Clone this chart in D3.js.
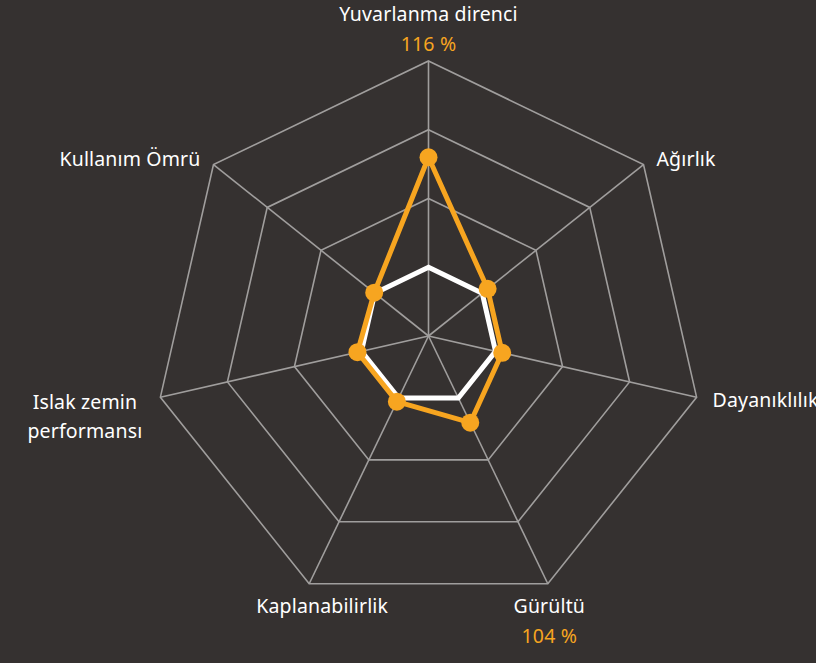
<!DOCTYPE html>
<html>
<head>
<meta charset="utf-8">
<script src="https://cdn.jsdelivr.net/npm/d3@7"></script>
<style>
  html, body { margin: 0; padding: 0; background: #353130; }
  svg text { font-family: "Noto Sans", "Open Sans", sans-serif; font-size: 19.5px; letter-spacing: 0.15px; }
</style>
</head>
<body>
<div id="wrapper"></div>
<script>
const width = 816,
    height = 663;

// axis labels, clockwise from the top
const axes = ["Yuvarlanma direnci", "Ağırlık", "Dayanıklılık", "Gürültü",
    "Kaplanabilirlik", "Islak zemin\nperformansı", "Kullanım Ömrü"];
// baseline (white) and product (orange), in %
const baseline = [100, 100, 100, 100, 100, 100, 100];
const product = [116, 101, 101, 104, 100.6, 100.6, 100.1];
// which axes show their % value
const showValue = [true, false, false, true, false, false, false];
const levels = [100, 110, 120, 130];

const cx = 428.5, cy = 336, R = 275;
const n = axes.length;

const svg = d3.select("#wrapper")
    .append("svg")
    .attr("width", width)
    .attr("height", height);

const rScale = d3.scaleLinear()
    .domain([90, 130])
    .range([0, R]);

const angle = i => i * 2 * Math.PI / n;
const pt = (i, r) => [cx + Math.sin(angle(i)) * r, cy - Math.cos(angle(i)) * r];

const g = svg.append("g");

// grid rings
g.selectAll("polygon.ring")
    .data(levels)
    .enter().append("polygon")
    .attr("class", "ring")
    .attr("points", d => d3.range(n).map(i => pt(i, rScale(d)).join(",")).join(" "))
    .attr("fill", "none")
    .attr("stroke", "#a09e9d")
    .attr("stroke-width", 1.6);

// spokes
g.selectAll("line.spoke")
    .data(d3.range(n))
    .enter().append("line")
    .attr("x1", cx).attr("y1", cy)
    .attr("x2", i => pt(i, R)[0])
    .attr("y2", i => pt(i, R)[1])
    .attr("stroke", "#a09e9d")
    .attr("stroke-width", 1.6);

const line = d3.line().curve(d3.curveLinearClosed);

g.append("path")
    .attr("d", line(baseline.map((v, i) => pt(i, rScale(v)))))
    .attr("fill", "none")
    .attr("stroke", "#ffffff")
    .attr("stroke-width", 5)
    .attr("stroke-linejoin", "miter");

g.append("path")
    .attr("d", line(product.map((v, i) => pt(i, rScale(v)))))
    .attr("fill", "none")
    .attr("stroke", "#f7a520")
    .attr("stroke-width", 5)
    .attr("stroke-linejoin", "round");

g.selectAll("circle.dot")
    .data(product)
    .enter().append("circle")
    .attr("cx", (v, i) => pt(i, rScale(v))[0])
    .attr("cy", (v, i) => pt(i, rScale(v))[1])
    .attr("r", 9)
    .attr("fill", "#f7a520");

// label placement relative to the outer vertex
const place = [
    {anchor: "middle", dx: 0, dy: -40},
    {anchor: "start", dx: 13, dy: 1.5},
    {anchor: "start", dx: 16, dy: 10},
    {anchor: "middle", dx: 1.5, dy: 29},
    {anchor: "middle", dx: 13, dy: 29},
    {anchor: "middle", dx: -75.5, dy: 12},
    {anchor: "end", dx: -13, dy: 1.5}
];

const labels = svg.append("g").selectAll("g")
    .data(axes)
    .enter().append("g")
    .attr("transform", (d, i) => {
        const p = pt(i, R);
        return "translate(" + (p[0] + place[i].dx) + "," + (p[1] + place[i].dy) + ")";
    });

labels.each(function (d, i) {
    const t = d3.select(this).append("text")
        .attr("text-anchor", place[i].anchor)
        .attr("fill", "#ffffff");
    d.split("\n").forEach((s, k) => {
        t.append("tspan").attr("x", 0).attr("dy", k === 0 ? 0 : 29).text(s);
    });
    if (showValue[i]) {
        d3.select(this).append("text")
            .attr("text-anchor", "middle")
            .attr("y", 30)
            .attr("fill", "#f7a520")
            .text(d3.format("d")(product[i]) + " %");
    }
});
</script>
</body>
</html>
